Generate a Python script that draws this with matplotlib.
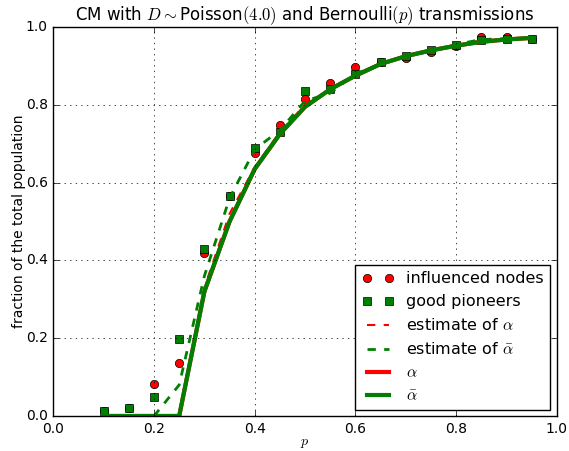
import matplotlib.pyplot as plt
import numpy as np

plt.style.use('classic')

p = [0.10, 0.15, 0.20, 0.25, 0.30, 0.35, 0.40, 0.45, 0.50, 0.55,
     0.60, 0.65, 0.70, 0.75, 0.80, 0.85, 0.90, 0.95]
influenced = [0.012, 0.02, 0.082, 0.135, 0.42, 0.565, 0.677, 0.747, 0.815, 0.856,
              0.897, 0.91, 0.92, 0.937, 0.95, 0.975, 0.975, 0.968]
pioneers = [0.014, 0.02, 0.048, 0.198, 0.43, 0.565, 0.69, 0.73, 0.835, 0.84,
            0.88, 0.91, 0.925, 0.94, 0.955, 0.967, 0.97, 0.97]
est_alpha = [0.0, 0.0, 0.0, 0.0, 0.33, 0.52, 0.64, 0.73, 0.80, 0.838,
             0.876, 0.908, 0.925, 0.94, 0.952, 0.965, 0.968, 0.972]
est_abar = [0.0, 0.0, 0.0, 0.08, 0.36, 0.56, 0.685, 0.735, 0.81, 0.83,
            0.88, 0.905, 0.925, 0.938, 0.955, 0.968, 0.97, 0.972]
alpha = [0.0, 0.0, 0.0, 0.0, 0.32, 0.50, 0.635, 0.725, 0.795, 0.84,
         0.875, 0.905, 0.925, 0.94, 0.952, 0.962, 0.968, 0.972]
alpha_bar = [0.0, 0.0, 0.0, 0.0, 0.32, 0.50, 0.635, 0.725, 0.795, 0.84,
             0.875, 0.905, 0.925, 0.94, 0.952, 0.962, 0.968, 0.972]

fig = plt.figure(figsize=(5.69, 4.51), dpi=100, facecolor='white')
ax = fig.add_axes([0.0937, 0.0776, 0.885, 0.8625])

ax.plot(p, influenced, 'ro', markersize=6, label='influenced nodes')
ax.plot(p, pioneers, 'gs', markersize=6, label='good pioneers')
ax.plot(p, est_alpha, 'r--', linewidth=1.5, label=r'estimate of $\alpha$')
ax.plot(p, est_abar, 'g--', linewidth=2, label=r'estimate of $\bar{\alpha}$')
ax.plot(p, alpha, 'r-', linewidth=3, label=r'$\alpha$')
ax.plot(p, alpha_bar, 'g-', linewidth=3, label=r'$\bar{\alpha}$')

ax.set_xlim(0, 1)
ax.set_ylim(0, 1)
ax.grid(True)
ax.set_xlabel(r'$p$', fontsize=10, labelpad=0)
ax.set_ylabel('fraction of the total population', fontsize=10, labelpad=0)
ax.set_title(r'CM with $D\sim$Poisson$(4.0)$ and Bernoulli$(p)$ transmissions', fontsize=12)
ax.tick_params(labelsize=10)
ax.legend(loc='lower right', numpoints=2, fontsize=11.5, borderaxespad=0.4)

fig.savefig('out.png', dpi=100, facecolor='white')
